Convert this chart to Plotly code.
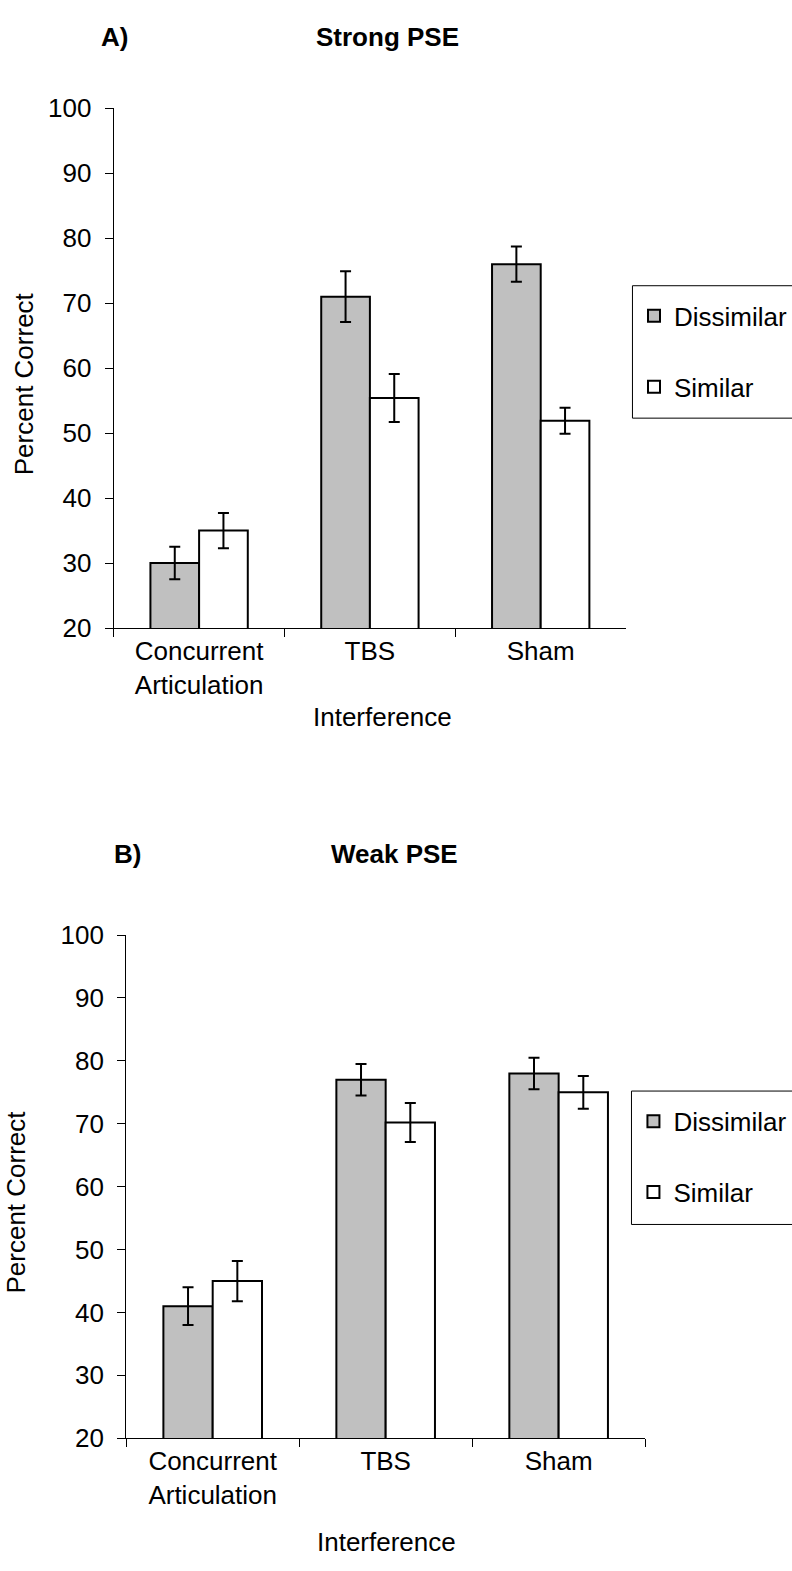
import plotly.graph_objects as go

# Interference conditions (x categories)
conditions = ["Concurrent<br>Articulation", "TBS", "Sham"]

# Panel A: strong phonological similarity effect
strong_dissimilar = [30.0, 71.0, 76.0]
strong_dissimilar_err = [2.5, 3.9, 2.7]
strong_similar = [35.0, 55.4, 51.9]
strong_similar_err = [2.7, 3.7, 2.0]

# Panel B: weak phonological similarity effect
weak_dissimilar = [41.0, 77.0, 78.0]
weak_dissimilar_err = [3.0, 2.5, 2.5]
weak_similar = [45.0, 70.2, 75.0]
weak_similar_err = [3.2, 3.1, 2.6]

y_ticks = [20, 30, 40, 50, 60, 70, 80, 90, 100]

W, H = 792, 1571
FONT = "Liberation Sans, Arial, sans-serif"
FS = 26


def px(x):
    return x / W


def py(y):
    return (H - y) / H


def bar(name, values, errors, fill, xa, ya, legend, group):
    return go.Bar(
        x=conditions,
        y=values,
        name=name,
        xaxis=xa,
        yaxis=ya,
        legend=legend,
        legendgroup=group,
        marker=dict(color=fill, line=dict(color="black", width=2)),
        error_y=dict(type="data", array=errors, visible=True,
                     color="black", thickness=2, width=5.5),
    )


fig = go.Figure()
fig.add_trace(bar("Dissimilar", strong_dissimilar, strong_dissimilar_err,
                  "#c0c0c0", "x", "y", "legend", "a1"))
fig.add_trace(bar("Similar", strong_similar, strong_similar_err,
                  "white", "x", "y", "legend", "a2"))
fig.add_trace(bar("Dissimilar", weak_dissimilar, weak_dissimilar_err,
                  "#c0c0c0", "x2", "y2", "legend2", "b1"))
fig.add_trace(bar("Similar", weak_similar, weak_similar_err,
                  "white", "x2", "y2", "legend2", "b2"))

xaxis_style = dict(
    type="category", showline=True, linecolor="black", linewidth=1,
    ticks="outside", tickson="boundaries", ticklen=8, tickcolor="black",
    tickwidth=1, showgrid=False, zeroline=False,
    tickfont=dict(family=FONT, size=FS, color="black"),
)
yaxis_style = dict(
    range=[20, 100], tickvals=y_ticks, showline=True, linecolor="black",
    linewidth=1, ticks="outside", ticklen=8, tickcolor="black", tickwidth=1,
    showgrid=False, zeroline=False, ticklabelstandoff=8,
    tickfont=dict(family=FONT, size=FS, color="black"),
)

legend_style = dict(
    font=dict(family=FONT, size=FS, color="black"),
    bgcolor="rgba(0,0,0,0)", borderwidth=0,
    traceorder="grouped", tracegroupgap=34,
    xanchor="left", yanchor="middle", itemclick=False,
)

fig.update_layout(
    width=W, height=H,
    margin=dict(l=0, r=0, t=0, b=0),
    paper_bgcolor="white", plot_bgcolor="white",
    barmode="group", bargap=0.43, bargroupgap=0,
    font=dict(family=FONT, size=FS, color="black"),
    xaxis=dict(domain=[px(116.5), px(641.5)], anchor="y", **xaxis_style),
    yaxis=dict(domain=[py(625), py(95)], anchor="x", **yaxis_style),
    xaxis2=dict(domain=[px(129.3), px(661)], anchor="y2", **xaxis_style),
    yaxis2=dict(domain=[py(1451), py(938)], anchor="x2", **yaxis_style),
    legend=dict(x=px(650), y=py(343), **legend_style),
    legend2=dict(x=px(649), y=py(1164), **legend_style),
    showlegend=True,
)

# Legend frames (open on the right, running off the page edge)
for top, bottom, left in [(276, 411, 648), (1097, 1233, 647)]:
    fig.add_shape(type="rect", xref="paper", yref="paper",
                  x0=px(left), x1=1.05, y0=py(bottom), y1=py(top),
                  line=dict(color="black", width=1), fillcolor="rgba(0,0,0,0)")

annotations = [
    ("<b>A)</b>", 117, 22, 0),
    ("<b>Strong PSE</b>", 397, 22, 0),
    ("Percent Correct", 24, 376, -90),
    ("Interference", 392, 716, 0),
    ("<b>B)</b>", 130.5, 855, 0),
    ("<b>Weak PSE</b>", 404, 855, 0),
    ("Percent Correct", 16, 1210, -90),
    ("Interference", 396, 1557, 0),
]
for text, x, y, angle in annotations:
    fig.add_annotation(text=text, x=px(x), y=py(y), xref="paper", yref="paper",
                       xanchor="center", yanchor="middle", showarrow=False,
                       textangle=angle,
                       font=dict(family=FONT, size=FS, color="black"))

fig.write_html("out.html")
